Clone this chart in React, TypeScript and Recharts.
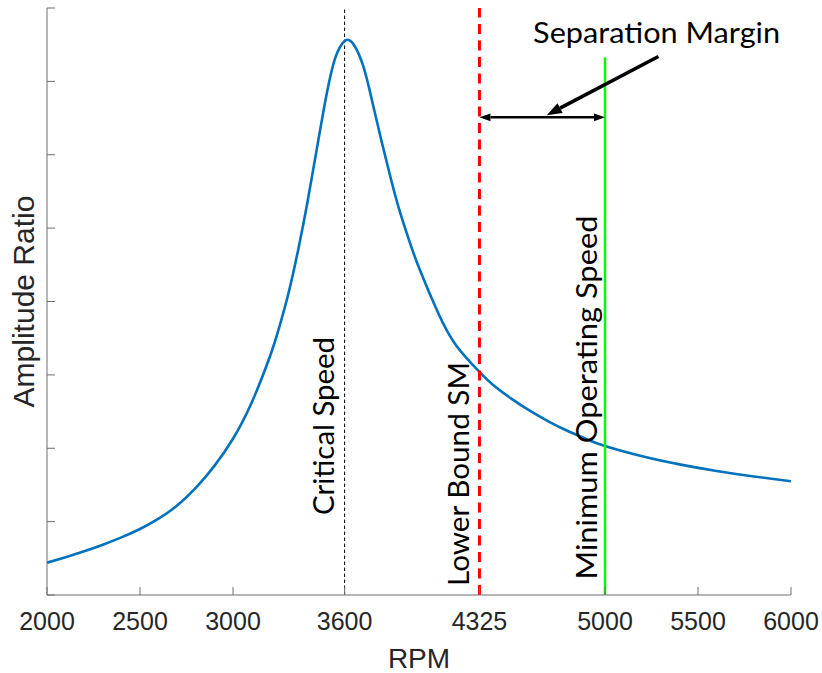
import React from 'react';
import { LineChart, Line, XAxis, YAxis, ReferenceLine } from 'recharts';

const rpm = [
  2000, 2100, 2200, 2300, 2400, 2500, 2600, 2700, 2800, 2900, 3000, 3100, 3200, 3250, 3300,
  3350, 3400, 3450, 3500, 3550, 3600, 3625, 3650, 3700, 3750, 3800, 3850, 3900, 3950, 4000,
  4100, 4200, 4325, 4400, 4500, 4600, 4700, 4800, 4900, 5000, 5200, 5400, 5600, 5800, 6000,
];
const amplitude = [
  0.44, 0.515, 0.595, 0.685, 0.785, 0.9, 1.04, 1.22, 1.46, 1.76, 2.13, 2.62, 3.26, 3.66, 4.13,
  4.7, 5.35, 6.07, 6.78, 7.32, 7.55, 7.56, 7.5, 7.21, 6.71, 6.17, 5.66, 5.2, 4.81, 4.46,
  3.86, 3.4, 3.04, 2.86, 2.67, 2.505, 2.36, 2.235, 2.125, 2.03, 1.89, 1.78, 1.69, 1.615, 1.55,
];
const xTicks = [2000, 2500, 3000, 3600, 4325, 5000, 5500, 6000];
const yTicks = [0, 1, 2, 3, 4, 5, 6, 7, 8];

const criticalSpeed = 3600;
const lowerBoundSM = 4325;
const minOperatingSpeed = 5000;
const minOperatingTop = 7.33;
const marginArrowLevel = 6.51;
const pointerStart = { x: 5287, y: 7.34 };
const pointerEnd = { x: 4687, y: 6.54 };

const labelCritical = 'Critical Speed';
const labelLower = 'Lower Bound SM';
const labelMinimum = 'Minimum Operating Speed';
const labelSeparation = 'Separation Margin';
const xLabel = 'RPM';
const yLabel = 'Amplitude Ratio';

const data = rpm.map((r, i) => ({ rpm: r, amp: amplitude[i] }));

const AXIS = '#6e6e6e';
const TXT = '#262626';
const ANN_FONT = 'Lato, "Open Sans", sans-serif';
const AX_FONT = '"Liberation Sans", Arial, sans-serif';

function headPoints(tx: number, ty: number, fx: number, fy: number, len: number, half: number) {
  const dx = tx - fx;
  const dy = ty - fy;
  const d = Math.sqrt(dx * dx + dy * dy) || 1;
  const ux = dx / d;
  const uy = dy / d;
  const bx = tx - ux * len;
  const by = ty - uy * len;
  const px = -uy;
  const py = ux;
  return {
    pts: `${tx},${ty} ${bx + px * half},${by + py * half} ${bx - px * half},${by - py * half}`,
    bx,
    by,
  };
}

const DoubleArrow = (p: any) => {
  const { x1, y1, x2, y2 } = p;
  const a = headPoints(x1, y1, x2, y2, 11, 3.8);
  const b = headPoints(x2, y2, x1, y1, 11, 3.8);
  return (
    <g>
      <line x1={a.bx} y1={a.by} x2={b.bx} y2={b.by} stroke="#000" strokeWidth={2.5} />
      <polygon points={a.pts} fill="#000" />
      <polygon points={b.pts} fill="#000" />
    </g>
  );
};

const Pointer = (p: any) => {
  const { x1, y1, x2, y2 } = p;
  const h = headPoints(x2, y2, x1, y1, 15, 5.5);
  return (
    <g>
      <line x1={x1} y1={y1} x2={h.bx} y2={h.by} stroke="#000" strokeWidth={3.5} />
      <polygon points={h.pts} fill="#000" />
      <text
        x={x1 - 1.8}
        y={y1 - 13.4}
        textAnchor="middle"
        fontSize={29}
        fontFamily={ANN_FONT}
        fill="#000"
        textLength={247}
        lengthAdjust="spacingAndGlyphs"
      >
        {labelSeparation}
      </text>
    </g>
  );
};

const vLabel = (text: string, dx: number, fromBottom: number, len: number) => (props: any) => {
  const vb = props.viewBox || {};
  const x = vb.x + dx;
  const y = vb.y + vb.height - fromBottom;
  return (
    <text
      x={x}
      y={y}
      transform={`rotate(-90 ${x} ${y})`}
      textAnchor="middle"
      fontSize={29}
      fontFamily={ANN_FONT}
      fill="#000"
      textLength={len}
      lengthAdjust="spacingAndGlyphs"
    >
      {text}
    </text>
  );
};

export default function App() {
  return (
    <div style={{ position: 'absolute', left: 0, top: 0, background: '#fff' }}>
      <LineChart
        width={822}
        height={673}
        data={data}
        margin={{ top: 8, right: 31, bottom: 0, left: 0 }}
      >
        <XAxis
          xAxisId="b"
          dataKey="rpm"
          type="number"
          domain={[2000, 6000]}
          ticks={xTicks}
          interval={0}
          allowDataOverflow
          orientation="bottom"
          height={78}
          tickSize={-8}
          tickMargin={25}
          stroke={AXIS}
          tick={{ fill: TXT, fontSize: 25, fontFamily: AX_FONT }}
          label={{
            value: xLabel,
            position: 'insideBottom',
            offset: 5,
            fill: TXT,
            fontSize: 28,
            fontFamily: AX_FONT,
          }}
        />
        <XAxis
          xAxisId="t"
          dataKey="rpm"
          type="number"
          domain={[2000, 6000]}
          ticks={xTicks}
          interval={0}
          allowDataOverflow
          orientation="top"
          height={0}
          tickSize={-8}
          tickFormatter={() => ''}
          stroke={AXIS}
        />
        <YAxis
          yAxisId="l"
          type="number"
          domain={[0, 8]}
          ticks={yTicks}
          interval={0}
          allowDataOverflow
          width={47}
          tickSize={-8}
          tickFormatter={() => ''}
          stroke={AXIS}
          label={{
            value: yLabel,
            angle: -90,
            position: 'center',
            fill: TXT,
            fontSize: 30,
            fontFamily: AX_FONT,
          }}
        />
        <YAxis
          yAxisId="r"
          orientation="right"
          type="number"
          domain={[0, 8]}
          ticks={yTicks}
          interval={0}
          allowDataOverflow
          width={0}
          tickSize={-8}
          tickFormatter={() => ''}
          stroke={AXIS}
        />
        <ReferenceLine
          xAxisId="b"
          yAxisId="l"
          x={criticalSpeed}
          stroke="#000"
          strokeWidth={1}
          strokeDasharray="3.5 2.5"
          label={vLabel(labelCritical, -10.6, 169, 178)}
        />
        <Line
          xAxisId="b"
          yAxisId="l"
          dataKey="amp"
          type="natural"
          stroke="#0072BD"
          strokeWidth={2.6}
          dot={false}
          activeDot={false}
          isAnimationActive={false}
        />
        <ReferenceLine
          xAxisId="b"
          yAxisId="l"
          x={lowerBoundSM}
          stroke="#ff0000"
          strokeWidth={3}
          strokeDasharray="10 6.5"
          label={vLabel(labelLower, -10, 121, 224)}
        />
        <ReferenceLine
          xAxisId="b"
          yAxisId="l"
          segment={[
            { x: minOperatingSpeed, y: 0 },
            { x: minOperatingSpeed, y: minOperatingTop },
          ]}
          stroke="#00ff00"
          strokeWidth={2.5}
          label={vLabel(labelMinimum, -8, 197.5, 364)}
        />
        <ReferenceLine
          xAxisId="b"
          yAxisId="l"
          segment={[
            { x: lowerBoundSM, y: marginArrowLevel },
            { x: minOperatingSpeed, y: marginArrowLevel },
          ]}
          shape={DoubleArrow}
        />
        <ReferenceLine
          xAxisId="b"
          yAxisId="l"
          segment={[pointerStart, pointerEnd]}
          shape={Pointer}
        />
      </LineChart>
    </div>
  );
}
